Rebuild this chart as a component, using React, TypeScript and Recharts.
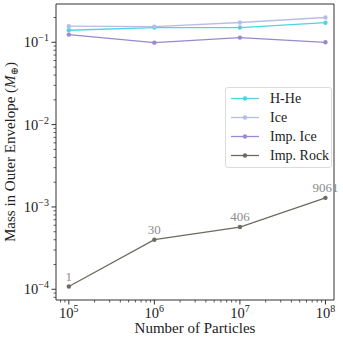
import { LineChart, Line, XAxis, YAxis, ReferenceArea, Legend, LabelList } from "recharts";

// number of particles per run
const particles = [1e5, 1e6, 1e7, 1e8];

// mass in outer envelope (Earth masses)
const hHe = [0.14, 0.151, 0.151, 0.173];
const ice = [0.157, 0.155, 0.174, 0.2];
const impIce = [0.124, 0.099, 0.114, 0.1];
const impRock = [1.08e-4, 4.0e-4, 5.7e-4, 1.29e-3];
const rockLabels = ["1", "30", "406", "9061"];

// ticks
const xMajor = [1e5, 1e6, 1e7, 1e8];
const xMinor = [
    8e4, 9e4,
    2e5, 3e5, 4e5, 5e5, 6e5, 7e5, 8e5, 9e5,
    2e6, 3e6, 4e6, 5e6, 6e6, 7e6, 8e6, 9e6,
    2e7, 3e7, 4e7, 5e7, 6e7, 7e7, 8e7, 9e7,
];
const yMajor = [1e-4, 1e-3, 1e-2, 1e-1];
const yMinor = [
    8e-5, 9e-5,
    2e-4, 3e-4, 4e-4, 5e-4, 6e-4, 7e-4, 8e-4, 9e-4,
    2e-3, 3e-3, 4e-3, 5e-3, 6e-3, 7e-3, 8e-3, 9e-3,
    2e-2, 3e-2, 4e-2, 5e-2, 6e-2, 7e-2, 8e-2, 9e-2,
    2e-1,
];

const xDomain = [Math.pow(10, 4.85), Math.pow(10, 8.1)];
const yDomain = [Math.pow(10, -4.13), Math.pow(10, -0.535)];

const data = particles.map((n, i) => ({
    n,
    hHe: hHe[i],
    ice: ice[i],
    impIce: impIce[i],
    impRock: impRock[i],
    label: rockLabels[i],
}));

const series = [
    { key: "hHe", name: "H-He", color: "#4fd3e5" },
    { key: "ice", name: "Ice", color: "#b6bee6" },
    { key: "impIce", name: "Imp. Ice", color: "#9a89d0" },
    { key: "impRock", name: "Imp. Rock", color: "#6d6a5f" },
];

const FONT = "Liberation Serif, DejaVu Serif, serif";
const INK = "#333";
const serif = { fontFamily: FONT };

const expLabel = (v: number) => {
    const e = Math.round(Math.log10(v));
    return e < 0 ? "\u2212" + Math.abs(e) : String(e);
};

const XTick = ({ x, y, payload }: any) => {
    const v = payload.value;
    if (!xMajor.includes(v)) {
        return <line x1={x} x2={x} y1={y} y2={y + 2.5} stroke={INK} strokeWidth={0.8} />;
    }
    return (
        <g>
            <line x1={x} x2={x} y1={y} y2={y + 4.5} stroke={INK} strokeWidth={1} />
            <text x={x} y={y + 18} textAnchor="middle" style={serif} fontSize={14.5} fill="#222">
                10<tspan dy={-6} fontSize={10}>{expLabel(v)}</tspan>
            </text>
        </g>
    );
};

const YTick = ({ x, y, payload }: any) => {
    const v = payload.value;
    if (!yMajor.includes(v)) {
        return <line x1={x} x2={x - 2.5} y1={y} y2={y} stroke={INK} strokeWidth={0.8} />;
    }
    return (
        <g>
            <line x1={x} x2={x - 4.5} y1={y} y2={y} stroke={INK} strokeWidth={1} />
            <text x={x - 7} y={y + 5} textAnchor="end" style={serif} fontSize={14.5} fill="#222">
                10<tspan dy={-6} fontSize={10}>{expLabel(v)}</tspan>
            </text>
        </g>
    );
};

const LegendBox = () => (
    <div
        style={{
            width: 105,
            height: 78,
            border: "1px solid #dcdcdc",
            borderRadius: 3,
            background: "rgba(255,255,255,0.85)",
            fontFamily: FONT,
            fontSize: 14,
            color: "#222",
            paddingTop: 1,
        }}
    >
        {series.map((s) => (
            <div key={s.key} style={{ display: "flex", alignItems: "center", height: 19 }}>
                <svg width={44} height={19}>
                    <line x1={5} x2={33} y1={9.5} y2={9.5} stroke={s.color} strokeWidth={1.3} />
                    <circle cx={19} cy={9.5} r={2.2} fill={s.color} />
                </svg>
                <span>{s.name}</span>
            </div>
        ))}
    </div>
);

export default function App() {
    return (
        <div style={{ position: "absolute", left: 0, top: 0, background: "#fff" }}>
            <LineChart width={343} height={338} data={data} margin={{ top: 4, right: 9, bottom: 0, left: 0 }}>
                <XAxis
                    dataKey="n"
                    type="number"
                    scale="log"
                    domain={xDomain}
                    allowDataOverflow
                    ticks={[...xMajor, ...xMinor]}
                    interval={0}
                    tick={<XTick />}
                    tickLine={false}
                    axisLine={false}
                    tickSize={0}
                    tickMargin={0}
                    height={38}
                />
                <YAxis
                    type="number"
                    scale="log"
                    domain={yDomain}
                    allowDataOverflow
                    ticks={[...yMajor, ...yMinor]}
                    interval={0}
                    tick={<YTick />}
                    tickLine={false}
                    axisLine={false}
                    tickSize={0}
                    tickMargin={0}
                    width={56}
                />
                <ReferenceArea
                    x1={xDomain[0]}
                    x2={xDomain[1]}
                    y1={yDomain[0]}
                    y2={yDomain[1]}
                    fill="none"
                    fillOpacity={0}
                    stroke={INK}
                    strokeWidth={1}
                />
                {series.map((s) => (
                    <Line
                        key={s.key}
                        dataKey={s.key}
                        name={s.name}
                        stroke={s.color}
                        strokeWidth={1.3}
                        dot={{ r: 2.2, fill: s.color, stroke: "none" }}
                        activeDot={false}
                        isAnimationActive={false}
                    >
                        {s.key === "impRock" && (
                            <LabelList
                                dataKey="label"
                                position="top"
                                offset={6}
                                fill="#8c8c8c"
                                style={serif}
                                fontSize={13}
                            />
                        )}
                    </Line>
                ))}
                <Legend
                    layout="vertical"
                    align="center"
                    verticalAlign="middle"
                    content={<LegendBox />}
                    wrapperStyle={{ left: 225, top: 87, width: 107 }}
                />
                <text x={195} y={333} textAnchor="middle" style={serif} fontSize={15} fill="#222">
                    Number of Particles
                </text>
                <text
                    x={15}
                    y={152}
                    transform="rotate(-90 15 152)"
                    textAnchor="middle"
                    style={serif}
                    fontSize={15}
                    fill="#222"
                >
                    Mass in Outer Envelope (<tspan fontStyle="italic">M</tspan>
                    <tspan dy={3} fontSize={10}>⊕</tspan>
                    <tspan dy={-3}>)</tspan>
                </text>
            </LineChart>
        </div>
    );
}
